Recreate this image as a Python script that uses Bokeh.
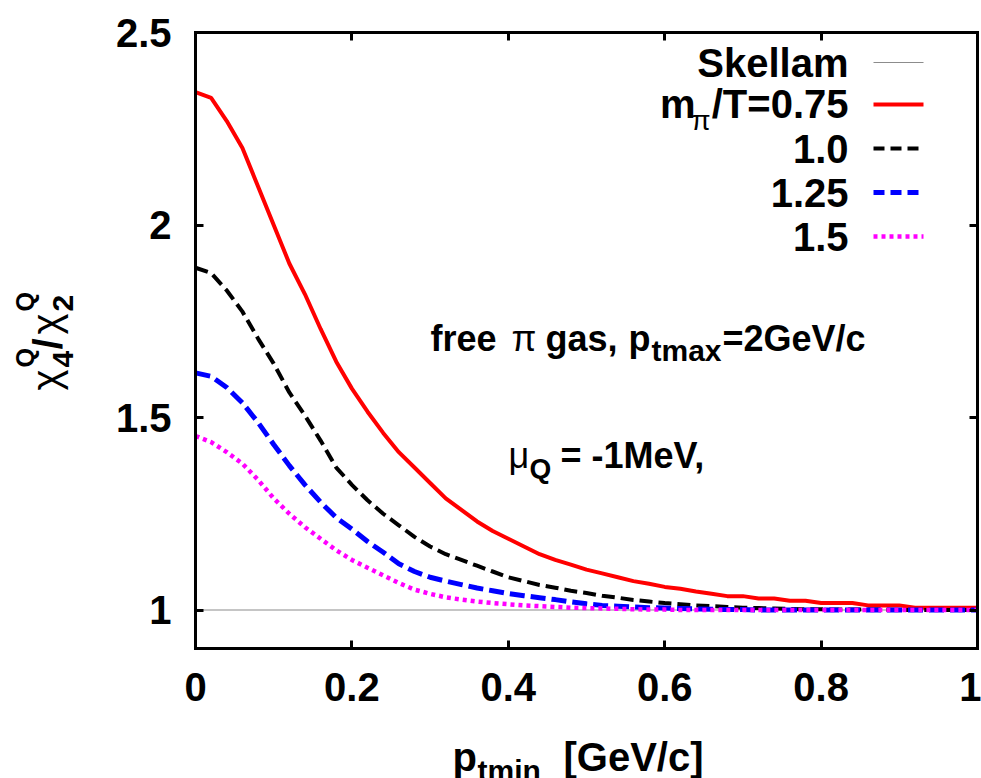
from bokeh.plotting import figure
from bokeh.models import Range1d, FixedTicker, LinearAxis, Label, Arrow
from bokeh.embed import file_html
from bokeh.resources import INLINE

# ---------------- data ----------------
pt_min = [0.00, 0.02, 0.04, 0.06, 0.08, 0.10, 0.12, 0.14, 0.16, 0.18,
          0.20, 0.22, 0.24, 0.26, 0.28, 0.30, 0.32, 0.34, 0.36, 0.38,
          0.40, 0.42, 0.44, 0.46, 0.48, 0.50, 0.52, 0.54, 0.56, 0.58,
          0.60, 0.62, 0.64, 0.66, 0.68, 0.70, 0.72, 0.74, 0.76, 0.78,
          0.80, 0.82, 0.84, 0.86, 0.88, 0.90, 0.92, 0.94, 0.96, 0.98, 1.00]

ratio_075 = [2.345, 2.330, 2.270, 2.200, 2.100, 2.000, 1.900, 1.820, 1.730, 1.645,
             1.575, 1.515, 1.460, 1.410, 1.370, 1.330, 1.290, 1.260, 1.230, 1.205,
             1.185, 1.165, 1.145, 1.130, 1.118, 1.105, 1.095, 1.085, 1.075, 1.068,
             1.060, 1.055, 1.048, 1.042, 1.036, 1.036, 1.030, 1.030, 1.024, 1.024,
             1.018, 1.018, 1.018, 1.012, 1.012, 1.012, 1.006, 1.006, 1.006, 1.006, 1.006]

ratio_100 = [1.889, 1.875, 1.830, 1.775, 1.705, 1.640, 1.565, 1.505, 1.440, 1.370,
             1.325, 1.285, 1.250, 1.220, 1.190, 1.165, 1.145, 1.130, 1.115, 1.100,
             1.085, 1.075, 1.065, 1.058, 1.050, 1.044, 1.037, 1.032, 1.026, 1.022,
             1.018, 1.015, 1.012, 1.010, 1.008, 1.006, 1.005, 1.004, 1.003, 1.002,
             1.002, 1.001, 1.001, 1.001, 1.001, 1.000, 1.000, 1.000, 1.000, 1.000, 1.000]

ratio_125 = [1.616, 1.607, 1.578, 1.538, 1.487, 1.430, 1.375, 1.325, 1.280, 1.240,
             1.210, 1.178, 1.150, 1.120, 1.100, 1.085, 1.075, 1.066, 1.057, 1.050,
             1.043, 1.037, 1.032, 1.027, 1.021, 1.016, 1.012, 1.010, 1.008, 1.006,
             1.005, 1.004, 1.003, 1.002, 1.001, 1.001, 1.000, 1.000, 1.000, 1.000,
             1.000, 1.000, 1.000, 1.000, 1.000, 1.000, 1.000, 1.000, 1.000, 1.000, 1.000]

ratio_150 = [1.452, 1.436, 1.410, 1.380, 1.338, 1.290, 1.250, 1.215, 1.185, 1.155,
             1.130, 1.110, 1.090, 1.070, 1.053, 1.042, 1.033, 1.027, 1.022, 1.018,
             1.015, 1.012, 1.010, 1.008, 1.006, 1.005, 1.004, 1.003, 1.002, 1.001,
             1.001, 1.000, 1.000, 1.000, 1.000, 1.000, 1.000, 1.000, 1.000, 1.000,
             1.000, 1.000, 1.000, 1.000, 1.000, 1.000, 1.000, 1.000, 1.000, 1.000, 1.000]

skellam_x = [0.0, 1.0]
skellam_y = [1.0, 1.0]

x_bounds = (0.0, 1.0)
y_bounds = (0.9, 2.5)
x_ticks = [0, 0.2, 0.4, 0.6, 0.8, 1.0]
x_tick_labels = ["0", "0.2", "0.4", "0.6", "0.8", "1"]
y_ticks = [1.0, 1.5, 2.0, 2.5]
y_tick_labels = ["1", "1.5", "2", "2.5"]

legend_labels = ["Skellam", "m", "π", "/T=0.75", "1.0", "1.25", "1.5"]

# ---------------- layout ----------------
W, H = 981, 778
BOX_L, BOX_R, BOX_T, BOX_B = 195, 977, 32, 648   # plot box in page pixels
FONT = "Liberation Sans"

# the frame covers the whole page; the axes are pinned to the plot box
kx = (BOX_R - BOX_L) / (x_bounds[1] - x_bounds[0])
ky = (BOX_B - BOX_T) / (y_bounds[1] - y_bounds[0])
x_range = Range1d(x_bounds[0] - BOX_L / kx, x_bounds[1] + (W - BOX_R) / kx)
y_range = Range1d(y_bounds[0] - (H - BOX_B) / ky, y_bounds[1] + BOX_T / ky)

p = figure(width=W, height=H, output_backend="svg", toolbar_location=None,
           x_range=x_range, y_range=y_range,
           min_border_left=0, min_border_right=0, min_border_top=0,
           min_border_bottom=0)
p.background_fill_color = "white"
p.border_fill_color = "white"
p.outline_line_color = None
p.xgrid.visible = False
p.ygrid.visible = False


def style_axis(ax, ticks, labels, bounds, loc, show_labels):
    ax.fixed_location = loc
    ax.bounds = bounds
    ax.ticker = FixedTicker(ticks=ticks)
    ax.major_label_overrides = {t: l for t, l in zip(ticks, labels)}
    ax.axis_line_width = 3
    ax.axis_line_color = "black"
    ax.axis_line_cap = "square"
    ax.major_tick_in = 8
    ax.major_tick_out = 0
    ax.major_tick_line_width = 3
    ax.minor_tick_line_color = None
    ax.major_label_text_font = FONT
    ax.major_label_text_font_style = "bold"
    ax.major_label_text_font_size = "40px"
    ax.major_label_standoff = 24
    ax.major_label_text_color = "black" if show_labels else None


style_axis(p.xaxis[0], x_ticks, x_tick_labels, x_bounds, y_bounds[0], True)
style_axis(p.yaxis[0], y_ticks, y_tick_labels, y_bounds, x_bounds[0], True)
top_ax = LinearAxis()
right_ax = LinearAxis()
style_axis(top_ax, x_ticks, x_tick_labels, x_bounds, y_bounds[1], False)
style_axis(right_ax, y_ticks, y_tick_labels, y_bounds, x_bounds[1], False)
p.add_layout(top_ax, "above")
p.add_layout(right_ax, "right")

# ---------------- curves ----------------
p.line(skellam_x, skellam_y, line_color="#8c8c8c", line_width=1.2)
p.line(pt_min, ratio_075, line_color="#ff0000", line_width=4)
p.line(pt_min, ratio_100, line_color="black", line_width=4, line_dash="13 6")
p.line(pt_min, ratio_125, line_color="#0000ff", line_width=5, line_dash="15 6")
p.line(pt_min, ratio_150, line_color="#ff00ff", line_width=4.5, line_dash="4 4")

# ---------------- texts ----------------
# positions are given as the vertical middle of each text (page pixels)
def sx(px):
    return px


def sy(py):
    return H - py


def txt(s, px, py, size, bold=True, align="left", angle=0):
    p.add_layout(Label(x=sx(px), y=sy(py), x_units="screen", y_units="screen",
                       text=s, text_font=FONT, text_font_size=f"{size}px",
                       text_font_style="bold" if bold else "normal",
                       text_color="black", text_align=align,
                       text_baseline="middle", angle=angle, angle_units="deg"))


def sample(py, color, width, dash="solid"):
    p.add_layout(Arrow(x_start=sx(873), y_start=sy(py), x_end=sx(923), y_end=sy(py),
                       start_units="screen", end_units="screen", start=None, end=None,
                       line_color=color, line_width=width, line_dash=dash))


# legend
txt(legend_labels[0], 848, 62, 40, align="right")
txt(legend_labels[3], 848, 103, 40, align="right")
txt(legend_labels[2], 710, 120, 28, bold=False, align="right")
txt(legend_labels[1], 695, 103, 40, align="right")
txt(legend_labels[4], 848, 148, 40, align="right")
txt(legend_labels[5], 848, 192, 40, align="right")
txt(legend_labels[6], 848, 236, 40, align="right")
sample(62, "#8c8c8c", 1.2)
sample(104, "#ff0000", 4)
sample(148, "black", 4, "11 6")
sample(192, "#0000ff", 5, "11 6")
sample(236, "#ff00ff", 4.5, "4 4")

# annotation 1: free pi gas, p_tmax=2GeV/c
txt("free", 430, 338, 36)
txt("π", 511, 338, 36, bold=False)
txt("gas,", 545, 338, 36)
txt("p", 628, 338, 36)
txt("tmax", 651, 350, 30)
txt("=2GeV/c", 722, 338, 36)

# annotation 2: mu_Q = -1MeV,
txt("μ", 508, 455, 36, bold=False)
txt("Q", 529, 468, 28)
txt("= -1MeV,", 560, 455, 36)

# x axis label: p_tmin [GeV/c]
txt("p", 452, 756, 40)
txt("tmin", 477, 770, 30)
txt("[GeV/c]", 563, 756, 40)

# y axis label: chi_4^Q / chi_2^Q  (rotated, reads upwards)
txt("χ", 45, 390, 40, bold=False, angle=90)
txt("4", 62, 367, 30, angle=90)
txt("Q", 24, 367, 25, angle=90)
txt("/", 47, 349, 40, angle=90)
txt("χ", 45, 334, 40, bold=False, angle=90)
txt("2", 62, 311, 30, angle=90)
txt("Q", 24, 311, 25, angle=90)

open("out.html", "w").write(file_html(p, INLINE))
